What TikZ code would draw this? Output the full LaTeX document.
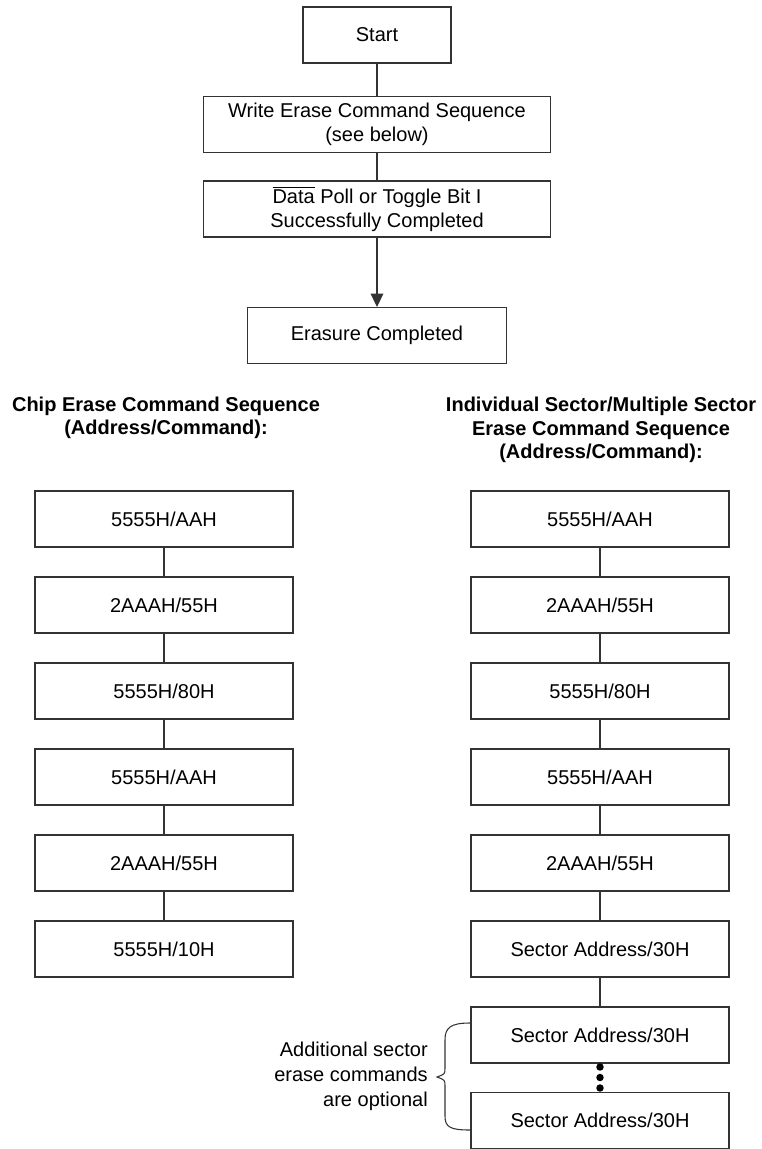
\documentclass[tikz,border=0pt]{standalone}
\usepackage{fontspec}
\setmainfont{Liberation Sans}
\usetikzlibrary{arrows.meta}

\begin{document}
\begin{tikzpicture}[x=0.75pt,y=-0.75pt, inner sep=0pt, >={Triangle[width=9.5pt,length=10pt]},
  font=\fontsize{15}{18}\selectfont,
  box/.style={rectangle,draw=black!80,line width=0.8pt,minimum width=193.5pt,minimum height=42pt,align=center},
  link/.style={draw=black!80,line width=0.8pt},
  head/.style={align=center,font=\fontsize{15}{17.5}\selectfont\bfseries}]
\useasboundingbox (0,0) rectangle (762,1149);
% main flow
\node (start) at (377,35) [box,minimum width=111pt] {Start};
\node (write) at (377,124.5) [box,minimum width=260.25pt] {Write Erase Command Sequence\\(see below)};
\node (poll) at (377,209) [box,minimum width=260.25pt] {$\overline{\hbox{Data}}$ Poll or Toggle Bit I\\Successfully Completed};
\node (done) at (377,335.5) [box,minimum width=194.25pt] {Erasure Completed};
\draw[link] (start) -- (write);
\draw[link] (write) -- (poll);
\draw[->, link] (poll) -- (done);
% headings
\node (chiphd) at (166,418) [head] {Chip Erase Command Sequence\\(Address/Command):};
\node (secthd) at (601,430) [head] {Individual Sector/Multiple Sector\\Erase Command Sequence\\(Address/Command):};
% chip erase
\node (c1) at (164,519) [box] {5555H/AAH};
\node (c2) at (164,605) [box] {2AAAH/55H};
\node (c3) at (164,691) [box] {5555H/80H};
\node (c4) at (164,777) [box] {5555H/AAH};
\node (c5) at (164,863) [box] {2AAAH/55H};
\node (c6) at (164,949) [box] {5555H/10H};
\draw[link] (c1) -- (c2);
\draw[link] (c2) -- (c3);
\draw[link] (c3) -- (c4);
\draw[link] (c4) -- (c5);
\draw[link] (c5) -- (c6);
% sector erase
\node (s1) at (600,519) [box] {5555H/AAH};
\node (s2) at (600,605) [box] {2AAAH/55H};
\node (s3) at (600,691) [box] {5555H/80H};
\node (s4) at (600,777) [box] {5555H/AAH};
\node (s5) at (600,863) [box] {2AAAH/55H};
\node (s6) at (600,949) [box] {Sector Address/30H};
\node (s7) at (600,1035) [box] {Sector Address/30H};
\node (s8) at (600,1120.5) [box] {Sector Address/30H};
\draw[link] (s1) -- (s2);
\draw[link] (s2) -- (s3);
\draw[link] (s3) -- (s4);
\draw[link] (s4) -- (s5);
\draw[link] (s5) -- (s6);
\draw[link] (s6) -- (s7);
\fill (600,1067) circle[radius=2.8pt];
\fill (600,1077.5) circle[radius=2.8pt];
\fill (600,1088) circle[radius=2.8pt];
% brace and note
\draw[link] (470,1023) .. controls (450,1023) and (445,1028) .. (445,1040) -- (445,1068)
  .. controls (445,1074) .. (437,1077) .. controls (445,1080) .. (445,1086) -- (445,1116)
  .. controls (445,1127) and (450,1130) .. (470,1130);
\node (note) at (428,1076) [anchor=east,align=right,font=\fontsize{15}{18.75}\selectfont] {Additional sector\\erase commands\\are optional};
\end{tikzpicture}
\end{document}
